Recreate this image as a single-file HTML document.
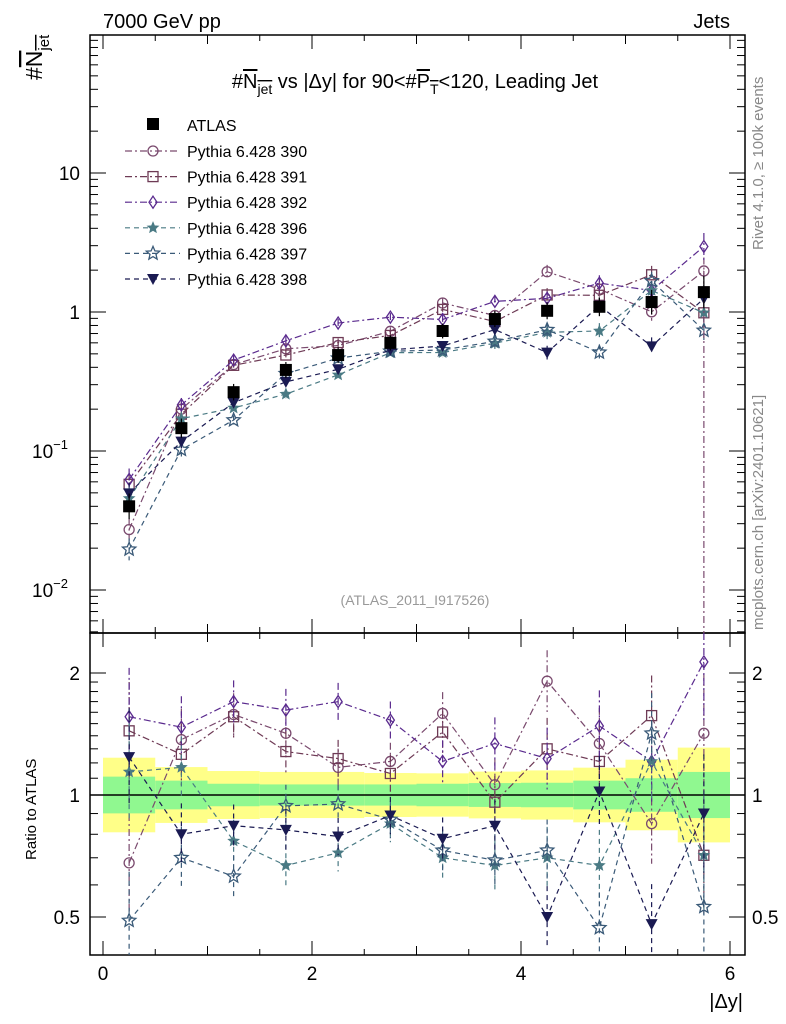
<!DOCTYPE html>
<html><head><meta charset="utf-8"><style>
body{margin:0;background:#fff;}
svg{display:block;font-family:"Liberation Sans",Arial,sans-serif;}
</style></head><body>
<svg id="c" width="786" height="1024" viewBox="0 0 786 1024">
<text x="103" y="28" font-size="20">7000 GeV pp</text>
<text x="730" y="28" font-size="20" text-anchor="end">Jets</text>
<text x="415" y="88" font-size="20" text-anchor="middle">#<tspan text-decoration="overline">N<tspan font-size="14" dy="6">jet</tspan></tspan><tspan dy="-6"> vs |Δy| for 90&lt;#</tspan><tspan text-decoration="overline">P<tspan font-size="14" dy="6">T</tspan></tspan><tspan dy="-6">&lt;120, Leading Jet</tspan></text>
<text transform="translate(42,80) rotate(-90)" font-size="23">#<tspan text-decoration="overline">N<tspan font-size="15" dy="7">jet</tspan></tspan></text>
<text transform="translate(36,860) rotate(-90)" font-size="15">Ratio to ATLAS</text>
<text transform="translate(763,250) rotate(-90)" font-size="15" fill="#888">Rivet 4.1.0, ≥ 100k events</text>
<text transform="translate(763,630) rotate(-90)" font-size="15" fill="#888">mcplots.cern.ch [arXiv:2401.10621]</text>
<text x="415" y="605" font-size="14" fill="#999" text-anchor="middle">(ATLAS_2011_I917526)</text>
<text x="743" y="1008" font-size="20" text-anchor="end">|Δy|</text>
<g id="g"></g>
</svg>
<script>
const xCenters=[0.25,0.75,1.25,1.75,2.25,2.75,3.25,3.75,4.25,4.75,5.25,5.75];
const atlas=[0.040,0.146,0.265,0.383,0.49,0.60,0.73,0.89,1.02,1.09,1.18,1.39];
const atlasStat=[0.11,0.085,0.066,0.062,0.062,0.062,0.066,0.07,0.072,0.085,0.10,0.14];
const atlasTot=[0.236,0.172,0.146,0.14,0.14,0.133,0.131,0.142,0.15,0.168,0.222,0.309];
const r390=[0.68,1.37,1.58,1.42,1.17,1.21,1.59,1.06,1.91,1.34,0.85,1.42];
const r391=[1.44,1.26,1.56,1.28,1.23,1.13,1.43,0.96,1.30,1.21,1.57,0.71];
const r392=[1.56,1.47,1.70,1.62,1.70,1.53,1.21,1.34,1.23,1.48,1.21,2.13];
const r396=[1.14,1.17,0.77,0.67,0.72,0.85,0.70,0.67,0.70,0.67,1.21,0.71];
const r397=[0.49,0.70,0.63,0.94,0.95,0.87,0.73,0.69,0.73,0.47,1.42,0.53];
const r398=[1.24,0.80,0.84,0.82,0.79,0.89,0.78,0.84,0.50,1.02,0.48,0.90];
const mcErr=[0.2,0.12,0.08,0.08,0.07,0.07,0.08,0.1,0.12,0.14,0.16,0.25];
const seriesNames=["Pythia 6.428 390","Pythia 6.428 391","Pythia 6.428 392","Pythia 6.428 396","Pythia 6.428 397","Pythia 6.428 398"];
const xTicks=[0,2,4,6];

const NS="http://www.w3.org/2000/svg";
const g=document.getElementById('g');
const L=90,R=745,T=35,MB=633,RB=955;
const X=v=>103+v*104.5;
const Y=v=>312-139*Math.log10(v);
const RY=v=>795-122*Math.log2(v);
function mk(tag,attrs,parent){const e=document.createElementNS(NS,tag);for(const k in attrs)e.setAttribute(k,attrs[k]);(parent||g).appendChild(e);return e;}

const bin=0.5;
xCenters.forEach((x,i)=>{
  const x0=X(x-bin/2),x1=X(x+bin/2);
  const b1=mk('rect',{x:x0,y:RY(1+atlasTot[i]),width:x1-x0,height:RY(1/(1+atlasTot[i]))-RY(1+atlasTot[i]),fill:'#ffff88'});
  
  
  const b2=mk('rect',{x:x0,y:RY(1+atlasStat[i]),width:x1-x0,height:RY(1/(1+atlasStat[i]))-RY(1+atlasStat[i]),fill:'#90f890'});
  
  
});
mk('line',{x1:L,x2:R,y1:RY(1),y2:RY(1),stroke:'#000','stroke-width':1.5});

const f1=mk('rect',{x:L,y:T,width:R-L,height:MB-T,fill:'none',stroke:'#000','stroke-width':1.5});

const f2=mk('rect',{x:L,y:MB,width:R-L,height:RB-MB,fill:'none',stroke:'#000','stroke-width':1.5});


for(let k=0;k<=24;k++){const v=k*0.25;const major=k%8===0, mid=k%4===0;const len=major?14:(mid?9:6);
 if(k%2!==0) continue;
 [[T,1],[MB,-1],[MB,1],[RB,-1]].forEach(([y0,d])=>{mk('line',{x1:X(v),x2:X(v),y1:y0,y2:y0+d*len,stroke:'#000'});});}
xTicks.forEach(v=>{const t=mk('text',{x:X(v),y:980,'font-size':19,'text-anchor':'middle'});t.textContent=v;});

for(let d=-3;d<=1;d++){for(let m=1;m<10;m++){const v=m*Math.pow(10,d);const y=Y(v);if(y<T||y>MB)continue;const len=m===1?16:8;
 mk('line',{x1:L,x2:L+len,y1:y,y2:y,stroke:'#000'});mk('line',{x1:R,x2:R-len,y1:y,y2:y,stroke:'#000'});}}
[[10,'10'],[1,'1']].forEach(([v,s])=>{const t=mk('text',{x:80,y:Y(v)+7,'font-size':19,'text-anchor':'end'});t.textContent=s;});
[[0.1,'−1'],[0.01,'−2']].forEach(([v,s])=>{const t=mk('text',{x:68,y:Y(v)+7,'font-size':19,'text-anchor':'end'});t.textContent='10';const sp=mk('tspan',{dy:-9,'font-size':13},t);sp.textContent=s;});

[0.5,0.6,0.7,0.8,0.9,1,1.1,1.2,1.3,1.4,1.5,1.6,1.7,1.8,1.9,2].forEach(v=>{const y=RY(v);const len=(v===0.5||v===1||v===2)?16:8;mk('line',{x1:L,x2:L+len,y1:y,y2:y,stroke:'#000'});mk('line',{x1:R,x2:R-len,y1:y,y2:y,stroke:'#000'});});
[[2,'2'],[1,'1'],[0.5,'0.5']].forEach(([v,s])=>{[[80,'end'],[752,'start']].forEach(([x,a])=>{const t=mk('text',{x:x,y:RY(v)+7,'font-size':19,'text-anchor':a});t.textContent=s;});});

const styles=[
 {c:'#7a4a6e',dash:'7,3,2,3',m:'circle'},
 {c:'#6e3a55',dash:'7,3,2,3',m:'square'},
 {c:'#5a2a8e',dash:'7,3,2,3',m:'diamond'},
 {c:'#4a7a84',dash:'5,4',m:'star'},
 {c:'#3a5a78',dash:'5,4',m:'star2'},
 {c:'#1a1a52',dash:'5,4',m:'tri'}];
const ratios=[r390,r391,r392,r396,r397,r398];

function marker(m,x,y,c,parent){
 if(m==='circle')return mk('circle',{cx:x,cy:y,r:5,fill:'none',stroke:c,'stroke-width':1.3},parent);
 if(m==='square')return mk('rect',{x:x-5,y:y-5,width:10,height:10,fill:'none',stroke:c,'stroke-width':1.3},parent);
 if(m==='diamond')return mk('polygon',{points:`${x},${y-6} ${x+4},${y} ${x},${y+6} ${x-4},${y}`,fill:'none',stroke:c,'stroke-width':1.3},parent);
 if(m==='tri')return mk('polygon',{points:`${x-6},${y-5} ${x+6},${y-5} ${x},${y+6}`,fill:c},parent);
 const rr=m==='star'?5:7;let p=[];for(let k=0;k<10;k++){const a=-Math.PI/2+k*Math.PI/5;const q=k%2?rr*0.45:rr;p.push((x+q*Math.cos(a)).toFixed(1)+','+(y+q*Math.sin(a)).toFixed(1));}
 return mk('polygon',{points:p.join(' '),fill:m==='star'?c:'none',stroke:c,'stroke-width':1.3},parent);
}
function clampY(y,top,bot){return Math.max(top,Math.min(bot,y));}

ratios.forEach((rs,s)=>{
 const st=styles[s];
 const sg=mk('g',{});
 
 
 const mainPts=rs.map((r,i)=>[X(xCenters[i]),Y(atlas[i]*r)]);
 const ratPts=rs.map((r,i)=>[X(xCenters[i]),RY(r)]);
 mk('polyline',{points:mainPts.map(p=>p.join(',')).join(' '),fill:'none',stroke:st.c,'stroke-width':1.2,'stroke-dasharray':st.dash},sg);
 mk('polyline',{points:ratPts.map(p=>p.join(',')).join(' '),fill:'none',stroke:st.c,'stroke-width':1.2,'stroke-dasharray':st.dash},sg);
 rs.forEach((r,i)=>{
  const x=X(xCenters[i]),e=mcErr[i];
  const v=atlas[i]*r;
  mk('line',{x1:x,x2:x,y1:clampY(Y(v*(1+e)),T,MB),y2:clampY(Y(v/(1+e)),T,MB),stroke:st.c,'stroke-width':1.2,'stroke-dasharray':st.dash},sg);
  mk('line',{x1:x,x2:x,y1:clampY(RY(r*(1+e*1.6)),MB,RB),y2:clampY(RY(r/(1+e*1.6)),MB,RB),stroke:st.c,'stroke-width':1.2,'stroke-dasharray':st.dash},sg);
  const m1=marker(st.m,x,Y(v),st.c,sg);
  
  
  const m2=marker(st.m,x,RY(r),st.c,sg);
  
  
 });
});
mk('line',{x1:X(5.75),x2:X(5.75),y1:Y(atlas[11]*r390[11]),y2:MB,stroke:styles[0].c,'stroke-width':1.2,'stroke-dasharray':styles[0].dash});

xCenters.forEach((x,i)=>{
 const px=X(x),py=Y(atlas[i]);
 mk('line',{x1:px,x2:px,y1:Y(atlas[i]*(1+atlasTot[i])),y2:Y(atlas[i]/(1+atlasTot[i])),stroke:'#000','stroke-width':1.2});
 const p=mk('rect',{x:px-6,y:py-6,width:12,height:12,fill:'#000'});
 
 
});

const lg=mk('g',{});


mk('rect',{x:147,y:118,width:12,height:12,fill:'#000'},lg);
const lt=mk('text',{x:187,y:131,'font-size':16},lg);lt.textContent='ATLAS';
seriesNames.forEach((n,s)=>{
 const y=151+s*25.6, st=styles[s];
 const e=mk('g',{},lg);
 
 
 mk('line',{x1:125,x2:180,y1:y,y2:y,stroke:st.c,'stroke-width':1.2,'stroke-dasharray':st.dash},e);
 marker(st.m,153,y,st.c,e);
 const t=mk('text',{x:187,y:y+6,'font-size':16},e);t.textContent=n;
});
</script>
</body></html>
